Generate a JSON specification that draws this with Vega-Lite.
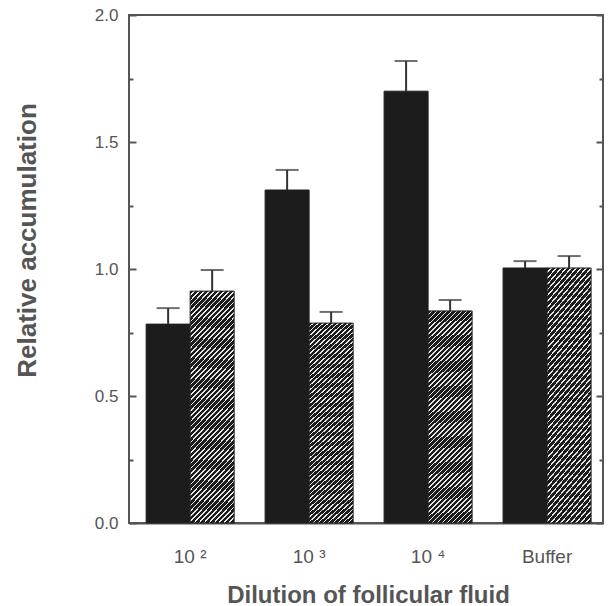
{
  "$schema": "https://vega.github.io/schema/vega-lite/v6.json",
  "width": 474,
  "height": 508,
  "autosize": "none",
  "padding": {"left": 129, "top": 15, "right": 5, "bottom": 83},
  "background": "white",
  "config": {
    "view": {"stroke": "#555", "strokeWidth": 2},
    "font": "Liberation Sans"
  },
  "data": {
    "values": [
      {"dilution": "10 ²", "fluid": "A", "value": 0.783, "upper": 0.846},
      {"dilution": "10 ²", "fluid": "B", "value": 0.913, "upper": 0.996},
      {"dilution": "10 ³", "fluid": "A", "value": 1.311, "upper": 1.39},
      {"dilution": "10 ³", "fluid": "B", "value": 0.787, "upper": 0.831},
      {"dilution": "10 ⁴", "fluid": "A", "value": 1.70, "upper": 1.819},
      {"dilution": "10 ⁴", "fluid": "B", "value": 0.835, "upper": 0.878},
      {"dilution": "Buffer", "fluid": "A", "value": 1.004, "upper": 1.031},
      {"dilution": "Buffer", "fluid": "B", "value": 1.004, "upper": 1.051}
    ]
  },
  "encoding": {
    "x": {
      "field": "dilution", "type": "nominal", "sort": null,
      "scale": {"paddingInner": 0.26, "paddingOuter": 0.122, "align": 0.59},
      "axis": {
        "labelAngle": 0, "ticks": false, "domainColor": "#555", "domainWidth": 2,
        "labelFontSize": 19, "labelColor": "#555", "labelPadding": 24,
        "title": "Dilution of follicular fluid", "titleFontSize": 24,
        "titleFontWeight": "bold", "titleColor": "#555",
        "titleY": 79, "titleBaseline": "alphabetic", "titleX": 239
      }
    },
    "xOffset": {"field": "fluid", "type": "nominal", "scale": {"domain": ["A", "B"], "paddingInner": 0, "paddingOuter": 0}}
  },
  "layer": [
    {
      "transform": [{"filter": "datum.fluid === 'A'"}],
      "mark": {"type": "bar", "color": "#1c1c1c", "stroke": "#222", "strokeWidth": 1},
      "encoding": {
        "y": {
          "field": "value", "type": "quantitative",
          "scale": {"domain": [0, 2], "nice": false},
          "axis": {
            "orient": "left",
            "values": [0, 0.5, 1, 1.5, 2],
            "format": ".1f",
            "offset": -7, "tickSize": 7, "zindex": 1,
            "tickColor": "#555", "tickWidth": 2, "domainOpacity": 0, "grid": false,
            "labelFontSize": 17, "labelColor": "#555", "labelPadding": 11,
            "title": "Relative  accumulation", "titleFontSize": 26, "titleFontWeight": "bold",
            "titleColor": "#555", "titleX": -109, "titleY": 225, "titleAngle": -90,
            "titleBaseline": "middle", "titleAlign": "center"
          }
        }
      }
    },
    {
      "transform": [{"filter": "datum.fluid === 'B'"}],
      "mark": {
        "type": "bar", "stroke": "#222", "strokeWidth": 1,
        "fill": {
          "gradient": "linear", "x1": 0, "y1": 0, "x2": 0.2308, "y2": 1.1538,
          "stops": [
            {"offset": 0, "color": "#1c1c1c"}, {"offset": 0.013, "color": "#1c1c1c"}, {"offset": 0.013, "color": "#e6e6e6"}, {"offset": 0.0189, "color": "#e6e6e6"},
            {"offset": 0.0189, "color": "#1c1c1c"}, {"offset": 0.0319, "color": "#1c1c1c"}, {"offset": 0.0319, "color": "#e6e6e6"}, {"offset": 0.0378, "color": "#e6e6e6"},
            {"offset": 0.0378, "color": "#1c1c1c"}, {"offset": 0.0508, "color": "#1c1c1c"}, {"offset": 0.0508, "color": "#e6e6e6"}, {"offset": 0.0567, "color": "#e6e6e6"},
            {"offset": 0.0567, "color": "#1c1c1c"}, {"offset": 0.0697, "color": "#1c1c1c"}, {"offset": 0.0697, "color": "#e6e6e6"}, {"offset": 0.0756, "color": "#e6e6e6"},
            {"offset": 0.0756, "color": "#1c1c1c"}, {"offset": 0.0886, "color": "#1c1c1c"}, {"offset": 0.0886, "color": "#e6e6e6"}, {"offset": 0.0945, "color": "#e6e6e6"},
            {"offset": 0.0945, "color": "#1c1c1c"}, {"offset": 0.1075, "color": "#1c1c1c"}, {"offset": 0.1075, "color": "#e6e6e6"}, {"offset": 0.1134, "color": "#e6e6e6"},
            {"offset": 0.1134, "color": "#1c1c1c"}, {"offset": 0.1264, "color": "#1c1c1c"}, {"offset": 0.1264, "color": "#e6e6e6"}, {"offset": 0.1323, "color": "#e6e6e6"},
            {"offset": 0.1323, "color": "#1c1c1c"}, {"offset": 0.1453, "color": "#1c1c1c"}, {"offset": 0.1453, "color": "#e6e6e6"}, {"offset": 0.1512, "color": "#e6e6e6"},
            {"offset": 0.1512, "color": "#1c1c1c"}, {"offset": 0.1642, "color": "#1c1c1c"}, {"offset": 0.1642, "color": "#e6e6e6"}, {"offset": 0.1701, "color": "#e6e6e6"},
            {"offset": 0.1701, "color": "#1c1c1c"}, {"offset": 0.1831, "color": "#1c1c1c"}, {"offset": 0.1831, "color": "#e6e6e6"}, {"offset": 0.189, "color": "#e6e6e6"},
            {"offset": 0.189, "color": "#1c1c1c"}, {"offset": 0.202, "color": "#1c1c1c"}, {"offset": 0.202, "color": "#e6e6e6"}, {"offset": 0.2079, "color": "#e6e6e6"},
            {"offset": 0.2079, "color": "#1c1c1c"}, {"offset": 0.2209, "color": "#1c1c1c"}, {"offset": 0.2209, "color": "#e6e6e6"}, {"offset": 0.2268, "color": "#e6e6e6"},
            {"offset": 0.2268, "color": "#1c1c1c"}, {"offset": 0.2398, "color": "#1c1c1c"}, {"offset": 0.2398, "color": "#e6e6e6"}, {"offset": 0.2457, "color": "#e6e6e6"},
            {"offset": 0.2457, "color": "#1c1c1c"}, {"offset": 0.2587, "color": "#1c1c1c"}, {"offset": 0.2587, "color": "#e6e6e6"}, {"offset": 0.2646, "color": "#e6e6e6"},
            {"offset": 0.2646, "color": "#1c1c1c"}, {"offset": 0.2776, "color": "#1c1c1c"}, {"offset": 0.2776, "color": "#e6e6e6"}, {"offset": 0.2835, "color": "#e6e6e6"},
            {"offset": 0.2835, "color": "#1c1c1c"}, {"offset": 0.2965, "color": "#1c1c1c"}, {"offset": 0.2965, "color": "#e6e6e6"}, {"offset": 0.3024, "color": "#e6e6e6"},
            {"offset": 0.3024, "color": "#1c1c1c"}, {"offset": 0.3154, "color": "#1c1c1c"}, {"offset": 0.3154, "color": "#e6e6e6"}, {"offset": 0.3213, "color": "#e6e6e6"},
            {"offset": 0.3213, "color": "#1c1c1c"}, {"offset": 0.3343, "color": "#1c1c1c"}, {"offset": 0.3343, "color": "#e6e6e6"}, {"offset": 0.3402, "color": "#e6e6e6"},
            {"offset": 0.3402, "color": "#1c1c1c"}, {"offset": 0.3532, "color": "#1c1c1c"}, {"offset": 0.3532, "color": "#e6e6e6"}, {"offset": 0.3591, "color": "#e6e6e6"},
            {"offset": 0.3591, "color": "#1c1c1c"}, {"offset": 0.3721, "color": "#1c1c1c"}, {"offset": 0.3721, "color": "#e6e6e6"}, {"offset": 0.378, "color": "#e6e6e6"},
            {"offset": 0.378, "color": "#1c1c1c"}, {"offset": 0.391, "color": "#1c1c1c"}, {"offset": 0.391, "color": "#e6e6e6"}, {"offset": 0.3969, "color": "#e6e6e6"},
            {"offset": 0.3969, "color": "#1c1c1c"}, {"offset": 0.4099, "color": "#1c1c1c"}, {"offset": 0.4099, "color": "#e6e6e6"}, {"offset": 0.4158, "color": "#e6e6e6"},
            {"offset": 0.4158, "color": "#1c1c1c"}, {"offset": 0.4288, "color": "#1c1c1c"}, {"offset": 0.4288, "color": "#e6e6e6"}, {"offset": 0.4347, "color": "#e6e6e6"},
            {"offset": 0.4347, "color": "#1c1c1c"}, {"offset": 0.4477, "color": "#1c1c1c"}, {"offset": 0.4477, "color": "#e6e6e6"}, {"offset": 0.4536, "color": "#e6e6e6"},
            {"offset": 0.4536, "color": "#1c1c1c"}, {"offset": 0.4666, "color": "#1c1c1c"}, {"offset": 0.4666, "color": "#e6e6e6"}, {"offset": 0.4725, "color": "#e6e6e6"},
            {"offset": 0.4725, "color": "#1c1c1c"}, {"offset": 0.4855, "color": "#1c1c1c"}, {"offset": 0.4855, "color": "#e6e6e6"}, {"offset": 0.4914, "color": "#e6e6e6"},
            {"offset": 0.4914, "color": "#1c1c1c"}, {"offset": 0.5044, "color": "#1c1c1c"}, {"offset": 0.5044, "color": "#e6e6e6"}, {"offset": 0.5103, "color": "#e6e6e6"},
            {"offset": 0.5103, "color": "#1c1c1c"}, {"offset": 0.5233, "color": "#1c1c1c"}, {"offset": 0.5233, "color": "#e6e6e6"}, {"offset": 0.5292, "color": "#e6e6e6"},
            {"offset": 0.5292, "color": "#1c1c1c"}, {"offset": 0.5422, "color": "#1c1c1c"}, {"offset": 0.5422, "color": "#e6e6e6"}, {"offset": 0.5481, "color": "#e6e6e6"},
            {"offset": 0.5481, "color": "#1c1c1c"}, {"offset": 0.5611, "color": "#1c1c1c"}, {"offset": 0.5611, "color": "#e6e6e6"}, {"offset": 0.567, "color": "#e6e6e6"},
            {"offset": 0.567, "color": "#1c1c1c"}, {"offset": 0.58, "color": "#1c1c1c"}, {"offset": 0.58, "color": "#e6e6e6"}, {"offset": 0.5859, "color": "#e6e6e6"},
            {"offset": 0.5859, "color": "#1c1c1c"}, {"offset": 0.5989, "color": "#1c1c1c"}, {"offset": 0.5989, "color": "#e6e6e6"}, {"offset": 0.6048, "color": "#e6e6e6"},
            {"offset": 0.6048, "color": "#1c1c1c"}, {"offset": 0.6178, "color": "#1c1c1c"}, {"offset": 0.6178, "color": "#e6e6e6"}, {"offset": 0.6237, "color": "#e6e6e6"},
            {"offset": 0.6237, "color": "#1c1c1c"}, {"offset": 0.6367, "color": "#1c1c1c"}, {"offset": 0.6367, "color": "#e6e6e6"}, {"offset": 0.6426, "color": "#e6e6e6"},
            {"offset": 0.6426, "color": "#1c1c1c"}, {"offset": 0.6556, "color": "#1c1c1c"}, {"offset": 0.6556, "color": "#e6e6e6"}, {"offset": 0.6615, "color": "#e6e6e6"},
            {"offset": 0.6615, "color": "#1c1c1c"}, {"offset": 0.6745, "color": "#1c1c1c"}, {"offset": 0.6745, "color": "#e6e6e6"}, {"offset": 0.6804, "color": "#e6e6e6"},
            {"offset": 0.6804, "color": "#1c1c1c"}, {"offset": 0.6934, "color": "#1c1c1c"}, {"offset": 0.6934, "color": "#e6e6e6"}, {"offset": 0.6993, "color": "#e6e6e6"},
            {"offset": 0.6993, "color": "#1c1c1c"}, {"offset": 0.7123, "color": "#1c1c1c"}, {"offset": 0.7123, "color": "#e6e6e6"}, {"offset": 0.7182, "color": "#e6e6e6"},
            {"offset": 0.7182, "color": "#1c1c1c"}, {"offset": 0.7312, "color": "#1c1c1c"}, {"offset": 0.7312, "color": "#e6e6e6"}, {"offset": 0.7371, "color": "#e6e6e6"},
            {"offset": 0.7371, "color": "#1c1c1c"}, {"offset": 0.7501, "color": "#1c1c1c"}, {"offset": 0.7501, "color": "#e6e6e6"}, {"offset": 0.756, "color": "#e6e6e6"},
            {"offset": 0.756, "color": "#1c1c1c"}, {"offset": 0.769, "color": "#1c1c1c"}, {"offset": 0.769, "color": "#e6e6e6"}, {"offset": 0.7749, "color": "#e6e6e6"},
            {"offset": 0.7749, "color": "#1c1c1c"}, {"offset": 0.7879, "color": "#1c1c1c"}, {"offset": 0.7879, "color": "#e6e6e6"}, {"offset": 0.7938, "color": "#e6e6e6"},
            {"offset": 0.7938, "color": "#1c1c1c"}, {"offset": 0.8068, "color": "#1c1c1c"}, {"offset": 0.8068, "color": "#e6e6e6"}, {"offset": 0.8127, "color": "#e6e6e6"},
            {"offset": 0.8127, "color": "#1c1c1c"}, {"offset": 0.8257, "color": "#1c1c1c"}, {"offset": 0.8257, "color": "#e6e6e6"}, {"offset": 0.8316, "color": "#e6e6e6"},
            {"offset": 0.8316, "color": "#1c1c1c"}, {"offset": 0.8446, "color": "#1c1c1c"}, {"offset": 0.8446, "color": "#e6e6e6"}, {"offset": 0.8505, "color": "#e6e6e6"},
            {"offset": 0.8505, "color": "#1c1c1c"}, {"offset": 0.8635, "color": "#1c1c1c"}, {"offset": 0.8635, "color": "#e6e6e6"}, {"offset": 0.8694, "color": "#e6e6e6"},
            {"offset": 0.8694, "color": "#1c1c1c"}, {"offset": 0.8824, "color": "#1c1c1c"}, {"offset": 0.8824, "color": "#e6e6e6"}, {"offset": 0.8883, "color": "#e6e6e6"},
            {"offset": 0.8883, "color": "#1c1c1c"}, {"offset": 0.9013, "color": "#1c1c1c"}, {"offset": 0.9013, "color": "#e6e6e6"}, {"offset": 0.9072, "color": "#e6e6e6"},
            {"offset": 0.9072, "color": "#1c1c1c"}, {"offset": 0.9202, "color": "#1c1c1c"}, {"offset": 0.9202, "color": "#e6e6e6"}, {"offset": 0.9261, "color": "#e6e6e6"},
            {"offset": 0.9261, "color": "#1c1c1c"}, {"offset": 0.9391, "color": "#1c1c1c"}, {"offset": 0.9391, "color": "#e6e6e6"}, {"offset": 0.945, "color": "#e6e6e6"},
            {"offset": 0.945, "color": "#1c1c1c"}, {"offset": 0.958, "color": "#1c1c1c"}, {"offset": 0.958, "color": "#e6e6e6"}, {"offset": 0.9639, "color": "#e6e6e6"},
            {"offset": 0.9639, "color": "#1c1c1c"}, {"offset": 0.9769, "color": "#1c1c1c"}, {"offset": 0.9769, "color": "#e6e6e6"}, {"offset": 0.9828, "color": "#e6e6e6"},
            {"offset": 0.9828, "color": "#1c1c1c"}, {"offset": 0.9958, "color": "#1c1c1c"}, {"offset": 0.9958, "color": "#e6e6e6"}, {"offset": 1, "color": "#e6e6e6"}
          ]
        }
      },
      "encoding": {
        "y": {
          "field": "value", "type": "quantitative",
          "axis": {
            "orient": "left", "values": [0.25, 0.75, 1.25, 1.75],
            "labels": false, "title": null, "domainOpacity": 0, "grid": false,
            "offset": -4, "tickSize": 4, "tickColor": "#555", "tickWidth": 2, "zindex": 1
          }
        }
      }
    },
    {
      "mark": {"type": "rule", "color": "#333", "strokeWidth": 2},
      "encoding": {
        "y": {
          "field": "value", "type": "quantitative",
          "axis": {
            "orient": "right", "values": [0.25, 0.75, 1.25, 1.75],
            "labels": false, "title": null, "domainOpacity": 0, "grid": false,
            "offset": -4, "tickSize": 4, "tickColor": "#555", "tickWidth": 2, "zindex": 1
          }
        },
        "y2": {"field": "upper"}
      }
    },
    {
      "mark": {"type": "tick", "color": "#333", "thickness": 2, "size": 23},
      "encoding": {
        "y": {
          "field": "upper", "type": "quantitative",
          "axis": {
            "orient": "right", "values": [0, 0.5, 1, 1.5, 2],
            "labels": false, "title": null, "domainOpacity": 0, "grid": false,
            "offset": -7, "tickSize": 7, "tickColor": "#555", "tickWidth": 2, "zindex": 1
          }
        }
      }
    }
  ],
  "resolve": {"axis": {"y": "independent"}}
}
